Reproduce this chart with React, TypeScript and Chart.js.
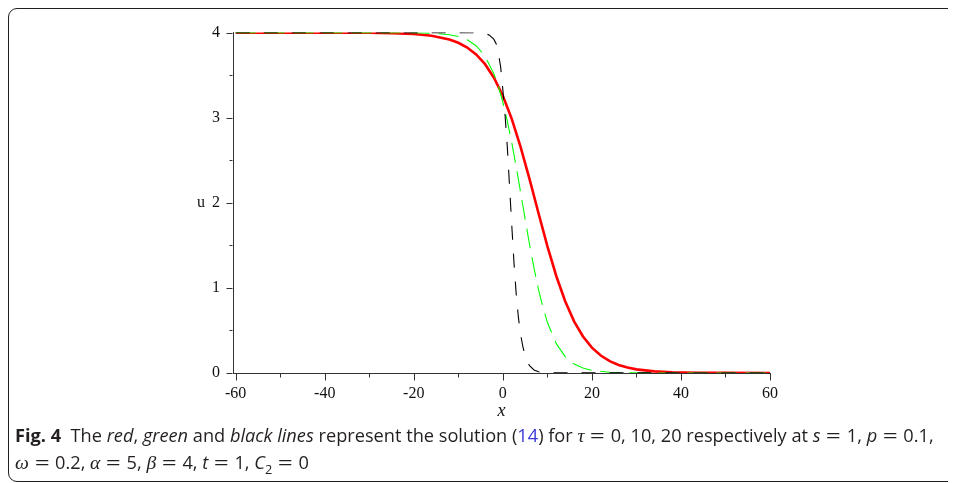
import React, { useEffect, useRef } from "react";
import { Chart, registerables } from "chart.js";

Chart.register(...registerables);

// tick values
const xTickValues = [-60, -40, -20, 0, 20, 40, 60];
const xMinorTicks = [-50, -30, -10, 10, 30, 50];
const yTickValues = [0, 1, 2, 3, 4];
const yMinorTicks = [0.5, 1.5, 2.5, 3.5];

// tau = 0 (red)
const redX = [-60, -40, -30, -25, -20, -16, -12, -10, -8, -6, -4, -2, 0, 2, 4, 6, 8, 10, 12, 14, 16, 18, 20, 22, 24, 26, 28, 30, 34, 38, 44, 50, 60];
const redU = [4.0, 4.0, 3.998, 3.994, 3.983, 3.963, 3.919, 3.88, 3.824, 3.743, 3.629, 3.47, 3.258, 2.986, 2.655, 2.278, 1.88, 1.491, 1.14, 0.843, 0.607, 0.429, 0.298, 0.205, 0.14, 0.095, 0.064, 0.043, 0.019, 0.009, 0.003, 0.001, 0];

// tau = 10 (green)
const greenX = [-60, -30, -20, -16, -12, -10, -8, -6, -4, -2, -1, 0, 1, 2, 3, 4, 5, 6, 7, 8, 9, 10, 12, 14, 16, 18, 20, 24, 30, 60];
const greenU = [4.0, 4.0, 3.998, 3.993, 3.975, 3.954, 3.916, 3.846, 3.723, 3.515, 3.367, 3.183, 2.963, 2.708, 2.424, 2.12, 1.811, 1.51, 1.232, 0.984, 0.772, 0.597, 0.345, 0.193, 0.106, 0.058, 0.031, 0.009, 0.001, 0];

// tau = 20 (black)
const blackX = [-60, -10, -6, -4, -3, -2, -1.5, -1, -0.5, 0, 0.5, 1, 1.5, 2, 2.5, 3, 3.5, 4, 4.5, 5, 5.5, 6, 7, 8, 10, 60];
const blackU = [4.0, 4.0, 3.998, 3.99, 3.97, 3.92, 3.87, 3.76, 3.6, 3.33, 3.03, 2.66, 2.2, 1.74, 1.3, 0.93, 0.65, 0.45, 0.31, 0.2, 0.13, 0.085, 0.035, 0.014, 0.002, 0];

const toPts = (xs: number[], ys: number[]) => xs.map((x, i) => ({ x, y: ys[i] }));

const serif = '"Liberation Serif", "Times New Roman", serif';

const ticksPlugin = {
  id: "mapleTicks",
  afterDraw(chart: any) {
    const { ctx, chartArea, scales } = chart;
    const xs = scales.x;
    const ys = scales.y;
    ctx.save();
    ctx.strokeStyle = "#333";
    ctx.lineWidth = 1;
    ctx.beginPath();
    const b = Math.round(chartArea.bottom) + 0.5;
    xTickValues.forEach((v) => {
      const px = Math.round(xs.getPixelForValue(v)) + 0.5;
      ctx.moveTo(px, b);
      ctx.lineTo(px, b + 7);
    });
    xMinorTicks.forEach((v) => {
      const px = Math.round(xs.getPixelForValue(v)) + 0.5;
      ctx.moveTo(px, b);
      ctx.lineTo(px, b + 4);
    });
    const l = Math.round(chartArea.left) - 0.5;
    yTickValues.forEach((v) => {
      const py = Math.round(ys.getPixelForValue(v)) + 0.5;
      ctx.moveTo(l, py);
      ctx.lineTo(l - 6, py);
    });
    yMinorTicks.forEach((v) => {
      const py = Math.round(ys.getPixelForValue(v)) + 0.5;
      ctx.moveTo(l, py);
      ctx.lineTo(l - 3, py);
    });
    ctx.stroke();
    ctx.fillStyle = "#111";
    ctx.font = "16px " + serif;
    ctx.textAlign = "center";
    ctx.textBaseline = "middle";
    ctx.fillText("u", chartArea.left - 32, ys.getPixelForValue(2));
    ctx.restore();
  },
};

function ChartCanvas() {
  const ref = useRef<HTMLCanvasElement | null>(null);
  useEffect(() => {
    if (!ref.current) return;
    const chart = new Chart(ref.current, {
      type: "line",
      data: {
        datasets: [
          {
            label: "tau=20",
            data: toPts(blackX, blackU),
            borderColor: "#000000",
            borderWidth: 1.1,
            borderDash: [14, 14],
            pointRadius: 0,
            tension: 0,
            order: 1,
          },
          {
            label: "tau=10",
            data: toPts(greenX, greenU),
            borderColor: "#00ff00",
            borderWidth: 1.1,
            borderDash: [20, 9],
            pointRadius: 0,
            tension: 0,
            order: 2,
          },
          {
            label: "tau=0",
            data: toPts(redX, redU),
            borderColor: "#ff0000",
            borderWidth: 2.6,
            pointRadius: 0,
            tension: 0,
            order: 3,
          },
        ],
      },
      options: {
        responsive: false,
        animation: false,
        devicePixelRatio: 1,
        layout: { padding: { top: 20, right: 20, left: 0, bottom: 0 } },
        plugins: { legend: { display: false }, tooltip: { enabled: false } },
        scales: {
          x: {
            type: "linear",
            min: -60.6,
            max: 60,
            afterBuildTicks: (s: any) => {
              s.ticks = xTickValues.map((v) => ({ value: v }));
            },
            afterFit: (s: any) => {
              s.height = 57;
            },
            grid: { display: true, drawOnChartArea: false, drawTicks: false },
            border: { display: true, color: "#333", width: 1 },
            ticks: {
              padding: 11,
              color: "#111",
              font: { family: serif, size: 16 },
              maxRotation: 0,
              autoSkip: false,
              callback: (v: any) => String(v),
            },
            title: {
              display: true,
              text: "x",
              color: "#111",
              font: { family: serif, size: 18, style: "italic" },
              padding: { top: 0, bottom: 8 },
            },
          },
          y: {
            type: "linear",
            min: 0,
            max: 4,
            afterBuildTicks: (s: any) => {
              s.ticks = yTickValues.map((v) => ({ value: v }));
            },
            afterFit: (s: any) => {
              s.width = 83;
            },
            grid: { display: true, drawOnChartArea: false, drawTicks: false },
            border: { display: true, color: "#333", width: 1 },
            ticks: {
              padding: 13,
              color: "#111",
              font: { family: serif, size: 16 },
              callback: (v: any) => String(v),
            },
          },
        },
      },
      plugins: [ticksPlugin],
    });
    return () => chart.destroy();
  }, []);
  return (
    <canvas
      ref={ref}
      width={640}
      height={420}
      style={{ position: "absolute", left: 142, top: 2, width: 640, height: 420 }}
    />
  );
}

const capFont = '"Open Sans", "Noto Sans", sans-serif';
const M = ({ children }: { children: React.ReactNode }) => (
  <i style={{ fontFamily: serif, fontSize: "1.08em" }}>{children}</i>
);
const Eq = () => (
  <span style={{ display: "inline-block", width: "1em", margin: "0 0.22em", textAlign: "center" }}>
    <span style={{ display: "inline-block", transform: "scaleX(1.45)" }}>=</span>
  </span>
);

export default function App() {
  useEffect(() => {
    document.body.style.overflow = "hidden";
  }, []);
  return (
    <div style={{ position: "relative", width: 948, height: 475, overflow: "hidden" }}>
      <div
        style={{
          position: "absolute",
          left: 0,
          top: 0,
          width: 1000,
          height: 474,
          border: "1px solid #231f20",
          borderRadius: 9,
          boxSizing: "border-box",
        }}
      />
      <ChartCanvas />
      <div
        style={{
          position: "absolute",
          left: 7,
          top: 414,
          fontFamily: capFont,
          fontSize: 18.2,
          lineHeight: "27px",
          color: "#231f20",
          whiteSpace: "nowrap",
        }}
      >
        <div>
          <b>Fig. 4</b>&nbsp;&nbsp;The <i>red</i>, <i>green</i> and <i>black lines</i> represent the solution (
          <span style={{ color: "#3a3ad8" }}>14</span>) for <M>τ</M>
          <Eq />0, 10, 20 respectively at <i>s</i>
          <Eq />1, <i>p</i>
          <Eq />0.1,
        </div>
        <div>
          <M>ω</M>
          <Eq />0.2, <M>α</M>
          <Eq />5, <M>β</M>
          <Eq />4, <i>t</i>
          <Eq />1, <i>C</i>
          <sub style={{ fontSize: "0.7em", lineHeight: 0 }}>2</sub>
          <Eq />0
        </div>
      </div>
    </div>
  );
}
